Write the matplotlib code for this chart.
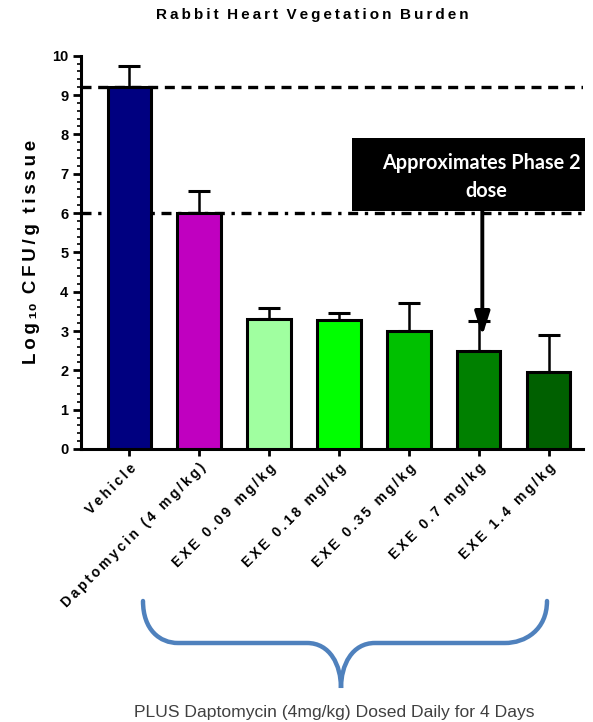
import numpy as np
import matplotlib
matplotlib.use("Agg")
import matplotlib.pyplot as plt
from matplotlib.path import Path
from matplotlib.patches import PathPatch, Rectangle

plt.rcParams['font.family'] = ['Liberation Sans', 'DejaVu Sans']

groups = ["Vehicle", "Daptomycin (4 mg/kg)", "EXE 0.09 mg/kg", "EXE 0.18 mg/kg",
          "EXE 0.35 mg/kg", "EXE 0.7 mg/kg", "EXE 1.4 mg/kg"]
means = [9.2, 6.0, 3.3, 3.27, 3.0, 2.48, 1.95]
err_up = [0.55, 0.55, 0.28, 0.2, 0.7, 0.77, 0.95]
colors = ["#000080", "#C000C0", "#A0FFA0", "#00FF00", "#00C000", "#008000", "#006000"]
vehicle_line = 9.2
dapto_line = 6.0


def spaced(s, sep="\u2009"):
    return sep.join(list(s))


W, H = 593, 722
fig = plt.figure(figsize=(W / 100, H / 100), dpi=100)
ax = fig.add_axes([81 / W, 1 - 449 / H, (583 - 81) / W, (449 - 55.7) / H])

x = np.arange(len(groups))
ax.bar(x, means, width=0.62, color=colors, edgecolor="black", linewidth=2.2, zorder=3)
ax.errorbar(x, means, yerr=[np.zeros(len(x)), err_up], fmt="none", ecolor="black",
            elinewidth=1.8, capsize=8, capthick=2.2, zorder=2)

ax.axhline(vehicle_line, color="black", lw=2.4, ls=(0, (3, 2)), zorder=1)
ax.axhline(dapto_line, color="black", lw=2.4, ls=(0, (3, 2, 1, 2)), zorder=1)

ax.set_xlim(-0.69, 6.49)
ax.set_ylim(0, 10)
ax.spines["top"].set_visible(False)
ax.spines["right"].set_visible(False)
ax.spines["left"].set_linewidth(2.2)
ax.spines["bottom"].set_linewidth(2.2)
ax.set_yticks(np.arange(0, 11, 1))
ax.set_yticks(np.arange(0, 10.01, 0.2), minor=True)
ax.tick_params(axis="y", which="major", length=6, width=2, labelsize=10.5, pad=3)
ax.tick_params(axis="y", which="minor", length=3, width=1.2)
ax.tick_params(axis="x", which="major", length=5, width=2)
for lab in ax.get_yticklabels():
    lab.set_fontweight("bold")
ax.set_xticks(x)
ax.set_xticklabels([spaced(g) for g in groups], rotation=45, ha="right",
                   rotation_mode="anchor", fontsize=10, fontweight="bold")

ax.set_ylabel(spaced("Log") + "\u2009\u2081\u2080\u2009 " + spaced("CFU/g") + "  " + spaced("tissue"),
              fontsize=13.5, fontweight="bold", labelpad=9)
fig.text(0.527, 1 - 15 / H, spaced("Rabbit") + "  " + spaced("Heart") + "  " +
         spaced("Vegetation") + "  " + spaced("Burden"),
         ha="center", va="center", fontsize=11, fontweight="bold")

# annotation box and arrow
ax.add_patch(Rectangle((3.19, 6.06), 6.52 - 3.19, 7.91 - 6.06, facecolor="black",
                       edgecolor="none", zorder=5, clip_on=False))
ax.text(5.03, 7.27, "Approximates Phase 2", color="white", fontsize=14.3,
        fontweight="bold", family=["Lato", "DejaVu Sans"], ha="center", va="center", zorder=6)
ax.text(5.1, 6.57, "dose", color="white", fontsize=14.3,
        fontweight="bold", family=["Lato", "DejaVu Sans"], ha="center", va="center", zorder=6)
ax.annotate("", xy=(5.05, 2.88), xytext=(5.05, 6.06),
            arrowprops=dict(arrowstyle="-|>,head_width=0.45,head_length=1.4",
                            color="black", lw=2.8, shrinkA=0, shrinkB=0), zorder=6)

# brace under the EXE groups
def fx(px):
    return px / W


def fy(py):
    return 1 - py / H


verts = [(143, 601), (143, 630), (160, 643), (178, 643),
         (307, 643),
         (330, 643), (341, 665), (341, 688),
         (341, 665), (352, 643), (375, 643),
         (505, 643),
         (525, 643), (547, 630), (547, 601)]
codes = [Path.MOVETO, Path.CURVE4, Path.CURVE4, Path.CURVE4,
         Path.LINETO,
         Path.CURVE4, Path.CURVE4, Path.CURVE4,
         Path.CURVE4, Path.CURVE4, Path.CURVE4,
         Path.LINETO,
         Path.CURVE4, Path.CURVE4, Path.CURVE4]
brace = Path([(fx(a), fy(b)) for a, b in verts], codes)
fig.add_artist(PathPatch(brace, facecolor="none", edgecolor="#4F81BD", lw=3.2,
                         transform=fig.transFigure, capstyle="round"))
fig.text(fx(334), fy(712), "PLUS Daptomycin (4mg/kg) Dosed Daily for 4 Days",
         ha="center", va="center", fontsize=12.6, color="#404040")

fig.savefig("out.png", dpi=100)
